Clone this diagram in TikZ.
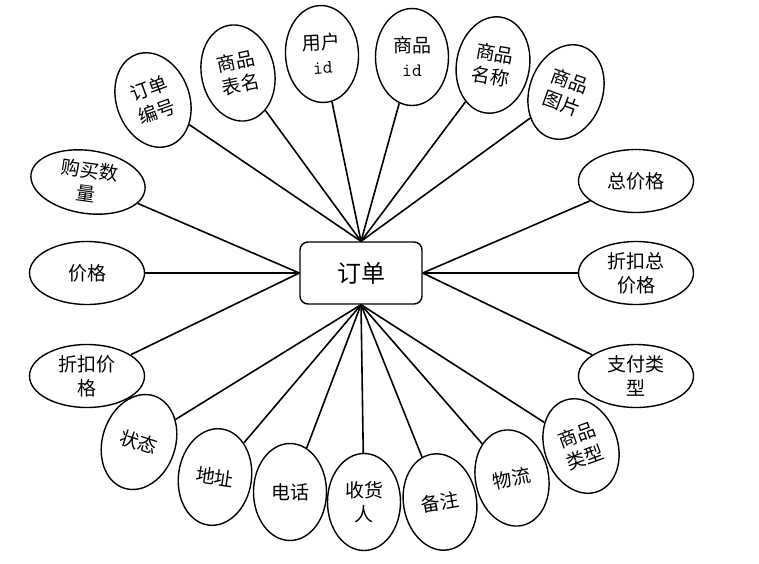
\documentclass[tikz,border=0pt]{standalone}
\usepackage{fontspec}
\newfontfamily\cjk{Noto Sans CJK SC}
\usetikzlibrary{shapes.geometric}

\begin{document}
\begin{tikzpicture}[
        x=1pt, y=-1pt,
        font=\cjk\fontsize{19}{24}\selectfont,
        entity/.style={rectangle, rounded corners=8pt, draw, line width=1.4pt, minimum width=122pt, minimum height=62pt, font=\cjk\fontsize{24}{28}\selectfont},
        attr/.style={ellipse, draw, line width=1.4pt, inner sep=0pt, align=center, minimum width=73pt, minimum height=97pt},
        wattr/.style={attr, minimum width=115pt, minimum height=63pt},
        link/.style={line width=1.6pt},
      ]
        \useasboundingbox (0,0) rectangle (759,563);

        \node[entity] (order) at (361,273) {订单};

        % top
        \node[attr, rotate=20] (orderno) at (153,100) {订单\\编号};
        \node[attr, rotate=12] (tablename) at (238,73) {商品\\表名};
        \node[attr, rotate=3] (userid) at (322,54) {用户\\{\ttfamily id}};
        \node[attr] (goodsid) at (412,57) {商品\\{\ttfamily id}};
        \node[attr, rotate=-10] (goodsname) at (493,65) {商品\\名称};
        \node[attr, rotate=-20] (goodspic) at (566,92) {商品\\图片};

        % right
        \node[wattr] (total) at (636,181) {总价格};
        \node[wattr] (disctotal) at (636,273) {折扣总\\价格};
        \node[wattr] (paytype) at (636,376) {支付类\\型};

        % bottom
        \node[attr, rotate=20] (goodstype) at (581,446) {商品\\类型};
        \node[attr, rotate=12] (logistics) at (512,478) {物流};
        \node[attr, rotate=10] (remark) at (440,502) {备注};
        \node[attr] (receiver) at (364,502) {收货\\人};
        \node[attr] (phone) at (290,492) {电话};
        \node[attr, rotate=-8] (address) at (215,477) {地址};
        \node[attr, rotate=-18] (status) at (139,442) {状态};

        % left
        \node[wattr] (discprice) at (87,376) {折扣价\\格};
        \node[wattr] (price) at (87,273) {价格};
        \node[wattr, rotate=-8] (amount) at (88,182) {购买数\\量};

        \draw[link] (orderno) -- (order.north);
        \draw[link] (tablename) -- (order.north);
        \draw[link] (userid) -- (order.north);
        \draw[link] (goodsid) -- (order.north);
        \draw[link] (goodsname) -- (order.north);
        \draw[link] (goodspic) -- (order.north);
        \draw[link] (total) -- (order.east);
        \draw[link] (disctotal) -- (order.east);
        \draw[link] (paytype) -- (order.east);
        \draw[link] (goodstype) -- (order.south);
        \draw[link] (logistics) -- (order.south);
        \draw[link] (remark) -- (order.south);
        \draw[link] (receiver) -- (order.south);
        \draw[link] (phone) -- (order.south);
        \draw[link] (address) -- (order.south);
        \draw[link] (status) -- (order.south);
        \draw[link] (discprice) -- (order.west);
        \draw[link] (price) -- (order.west);
        \draw[link] (amount) -- (order.west);
      \end{tikzpicture}
\end{document}
